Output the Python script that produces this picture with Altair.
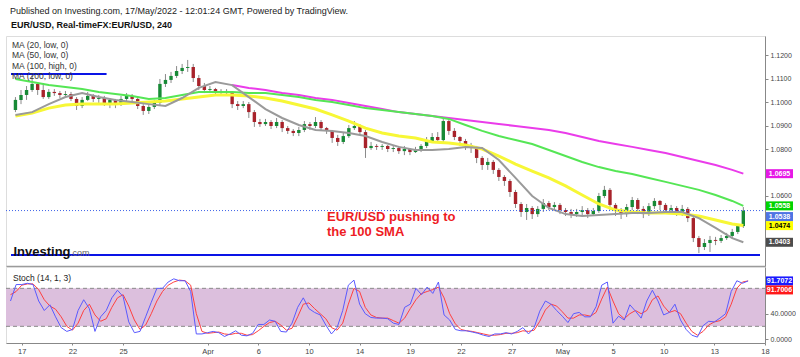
import json
import altair as alt
import pandas as pd

FONT = "Liberation Sans"

TITLE = "Published on Investing.com, 17/May/2022 - 12:01:24 GMT, Powered by TradingView."
SUBTITLE = "EUR/USD, Real-timeFX:EUR/USD, 240"
MA_LEGEND = ["MA (20, low, 0)", "MA (50, low, 0)", "MA (100, high, 0)", "MA (200, low, 0)"]
STOCH_LABEL = "Stoch (14, 1, 3)"
ANNOTATION = ["EUR/USD pushing to", "the 100 SMA"]
WATERMARK = "Investing"
WATERMARK_SUFFIX = ".com"

# 8-hour candles, bar index 0..131
OPEN = [1.0966,1.1009,1.1030,1.1051,1.1077,1.1051,1.1021,1.1043,1.1038,1.1030,
        1.1034,1.1013,1.0983,1.1009,1.1026,1.1013,1.1017,1.0996,1.1009,1.0991,
        1.1013,1.1026,1.1013,1.0983,1.0962,1.0979,1.0996,1.1077,1.1094,1.1111,
        1.1132,1.1145,1.1149,1.1102,1.1068,1.1051,1.1055,1.1043,1.1047,1.1038,
        1.0991,1.0983,1.0991,1.0957,1.0915,1.0906,1.0915,1.0898,1.0915,1.0889,
        1.0877,1.0868,1.0881,1.0906,1.0898,1.0915,1.0889,1.0877,1.0847,1.0830,
        1.0855,1.0889,1.0898,1.0872,1.0804,1.0813,1.0809,1.0813,1.0800,1.0804,
        1.0791,1.0800,1.0787,1.0796,1.0813,1.0834,1.0851,1.0838,1.0919,1.0877,
        1.0851,1.0834,1.0817,1.0804,1.0762,1.0732,1.0745,1.0711,1.0681,1.0664,
        1.0617,1.0566,1.0532,1.0549,1.0523,1.0545,1.0570,1.0553,1.0562,1.0540,
        1.0532,1.0523,1.0532,1.0540,1.0523,1.0536,1.0600,1.0626,1.0562,1.0536,
        1.0523,1.0553,1.0583,1.0545,1.0523,1.0557,1.0579,1.0562,1.0540,1.0549,
        1.0528,1.0545,1.0506,1.0421,1.0383,1.0400,1.0413,1.0409,1.0421,1.0430,1.0447,1.0472]
HIGH = [1.1021,1.1051,1.1068,1.1123,1.1085,1.1081,1.1055,1.1055,1.1047,1.1047,
        1.1043,1.1021,1.1021,1.1043,1.1034,1.1030,1.1026,1.1017,1.1013,1.1026,
        1.1038,1.1034,1.1017,1.0991,1.0991,1.1009,1.1098,1.1119,1.1128,1.1153,
        1.1162,1.1179,1.1162,1.1115,1.1081,1.1068,1.1060,1.1055,1.1055,1.1043,
        1.1004,1.1004,1.1000,1.0966,1.0928,1.0928,1.0923,1.0932,1.0923,1.0898,
        1.0885,1.0894,1.0919,1.0915,1.0936,1.0923,1.0894,1.0881,1.0860,1.0868,
        1.0902,1.0919,1.0906,1.0881,1.0830,1.0821,1.0821,1.0817,1.0817,1.0813,
        1.0813,1.0804,1.0809,1.0821,1.0851,1.0868,1.0872,1.0936,1.0928,1.0889,
        1.0855,1.0843,1.0826,1.0813,1.0770,1.0762,1.0753,1.0719,1.0689,1.0672,
        1.0626,1.0574,1.0566,1.0557,1.0557,1.0587,1.0579,1.0574,1.0570,1.0549,
        1.0545,1.0545,1.0557,1.0549,1.0549,1.0613,1.0643,1.0634,1.0570,1.0549,
        1.0566,1.0596,1.0591,1.0557,1.0570,1.0591,1.0583,1.0570,1.0562,1.0557,
        1.0562,1.0553,1.0515,1.0430,1.0417,1.0430,1.0426,1.0434,1.0443,1.0460,1.0481,1.0553]
LOW = [1.0957,1.0991,1.1009,1.1043,1.1030,1.1013,1.1013,1.1026,1.1017,1.1017,
       1.1004,1.0966,1.0974,1.1004,1.1000,1.0996,1.0983,1.0974,1.0974,1.0983,
       1.1004,1.1000,1.0970,1.0945,1.0949,1.0970,1.0983,1.1064,1.1081,1.1102,
       1.1119,1.1128,1.1085,1.1051,1.1038,1.1038,1.1030,1.1034,1.1026,1.0974,
       1.0966,1.0974,1.0932,1.0894,1.0894,1.0898,1.0885,1.0889,1.0872,1.0864,
       1.0855,1.0855,1.0872,1.0881,1.0889,1.0877,1.0864,1.0826,1.0813,1.0821,
       1.0847,1.0881,1.0860,1.0762,1.0796,1.0796,1.0796,1.0787,1.0787,1.0779,
       1.0774,1.0774,1.0783,1.0787,1.0804,1.0826,1.0826,1.0830,1.0860,1.0838,
       1.0813,1.0796,1.0783,1.0740,1.0711,1.0711,1.0694,1.0664,1.0643,1.0596,
       1.0549,1.0511,1.0498,1.0502,1.0511,1.0532,1.0540,1.0540,1.0523,1.0515,
       1.0506,1.0511,1.0515,1.0506,1.0515,1.0528,1.0591,1.0540,1.0515,1.0502,
       1.0511,1.0540,1.0523,1.0506,1.0515,1.0545,1.0540,1.0528,1.0528,1.0515,
       1.0515,1.0489,1.0404,1.0357,1.0370,1.0362,1.0391,1.0400,1.0413,1.0421,1.0438,1.0464]
CLOSE = [1.1009,1.1030,1.1051,1.1077,1.1051,1.1021,1.1043,1.1038,1.1030,1.1034,
         1.1013,1.0983,1.1009,1.1026,1.1013,1.1017,1.0996,1.1009,1.0991,1.1013,
         1.1026,1.1013,1.0983,1.0962,1.0979,1.0996,1.1077,1.1094,1.1111,1.1132,
         1.1145,1.1149,1.1102,1.1068,1.1051,1.1055,1.1043,1.1047,1.1038,1.0991,
         1.0983,1.0991,1.0957,1.0915,1.0906,1.0915,1.0898,1.0915,1.0889,1.0877,
         1.0868,1.0881,1.0906,1.0898,1.0915,1.0889,1.0877,1.0847,1.0830,1.0855,
         1.0889,1.0898,1.0872,1.0804,1.0813,1.0809,1.0813,1.0800,1.0804,1.0791,
         1.0800,1.0787,1.0796,1.0813,1.0834,1.0851,1.0838,1.0919,1.0877,1.0851,
         1.0834,1.0817,1.0804,1.0762,1.0732,1.0745,1.0711,1.0681,1.0664,1.0617,
         1.0566,1.0532,1.0549,1.0523,1.0545,1.0570,1.0553,1.0562,1.0540,1.0532,
         1.0523,1.0532,1.0540,1.0523,1.0536,1.0600,1.0626,1.0562,1.0536,1.0523,
         1.0553,1.0583,1.0545,1.0523,1.0557,1.0579,1.0562,1.0540,1.0549,1.0528,
         1.0545,1.0506,1.0421,1.0383,1.0400,1.0413,1.0409,1.0421,1.0430,1.0447,1.0472,1.0538]

# moving averages read every 3 bars (once a day) plus the last bar
MA_BARS = list(range(0, 130, 3)) + [131]
MA20 = [1.0945,1.0957,1.0991,1.1021,1.1038,1.1021,1.1009,1.1000,1.0991,1.0983,
        1.1017,1.1060,1.1085,1.1072,1.1021,1.0970,1.0932,1.0902,1.0881,1.0877,
        1.0868,1.0855,1.0830,1.0809,1.0796,1.0796,1.0800,1.0809,1.0804,1.0753,
        1.0677,1.0600,1.0549,1.0523,1.0515,1.0519,1.0523,1.0528,1.0528,1.0532,
        1.0532,1.0506,1.0464,1.0421,1.0403]
MA50 = [1.0940,1.0953,1.0974,1.0987,1.0991,1.0991,1.0991,1.0996,1.1000,1.1004,
        1.1013,1.1021,1.1030,1.1030,1.1026,1.1017,1.1004,1.0987,1.0970,1.0945,
        1.0919,1.0889,1.0868,1.0855,1.0847,1.0830,1.0826,1.0817,1.0800,1.0770,
        1.0736,1.0706,1.0677,1.0643,1.0604,1.0566,1.0540,1.0532,1.0528,1.0528,
        1.0523,1.0515,1.0498,1.0481,1.0474]
MA100 = [1.1098,1.1085,1.1072,1.1064,1.1055,1.1043,1.1034,1.1026,1.1013,1.1017,
         1.1030,1.1043,1.1043,1.1043,1.1038,1.1038,1.1030,1.1021,1.1009,1.1000,
         1.0987,1.0974,1.0966,1.0957,1.0949,1.0940,1.0928,1.0902,1.0877,1.0855,
         1.0838,1.0821,1.0796,1.0770,1.0745,1.0723,1.0706,1.0694,1.0677,1.0660,
         1.0643,1.0626,1.0604,1.0579,1.0558]
MA200 = [None]*13 + [1.1072,1.1060,1.1051,1.1038,1.1030,1.1017,1.1009,
         1.0996,1.0983,1.0970,1.0957,1.0949,1.0940,1.0932,1.0923,1.0915,1.0906,
         1.0898,1.0889,1.0881,1.0868,1.0851,1.0834,1.0821,1.0809,1.0796,1.0783,
         1.0766,1.0749,1.0732,1.0711,1.0695]

STOCH_K = [60,86,86,88,86,60,45,54,35,18,
           12,15,45,62,48,12,35,45,65,77,
           67,27,10,12,35,58,80,80,90,95,
           92,92,75,8,8,10,12,10,4,8,
           13,6,5,9,23,23,30,28,12,11,
           25,50,65,48,42,38,22,8,18,45,
           85,93,55,40,34,33,33,32,25,23,
           50,55,80,70,82,72,90,38,30,15,
           13,13,11,9,6,4,8,8,10,8,
           12,18,8,18,44,60,55,45,36,26,
           40,42,35,35,51,85,90,25,36,30,
           54,44,33,60,77,60,38,42,55,30,
           15,6,3,21,28,27,33,40,75,92,88,91.7072]
STOCH_D = [70,75,85,87,87,78,62,52,47,35,
           20,14,25,45,55,38,28,32,50,65,
           70,52,30,15,22,40,60,75,85,90,
           93,92,85,40,12,9,10,11,8,7,
           9,9,6,7,13,20,26,28,22,14,
           17,35,55,57,48,40,32,18,14,25,
           55,80,75,50,38,34,33,33,29,25,
           33,48,62,72,75,78,82,65,40,24,
           15,13,12,10,8,6,6,7,9,9,
           10,13,12,14,28,46,55,52,43,33,
           33,38,38,36,42,63,82,60,40,32,
           40,45,40,45,62,68,52,42,45,40,
           25,12,6,12,22,27,29,35,55,80,90,91.7006]
STOCH_BAND = [20, 80]
STOCH_TICKS = [0, 40]

DAY_BARS = [2, 11, 20, 35, 44, 53, 62, 71, 80, 89, 98, 107, 116, 125, 134]
DAY_LABELS = ["17", "22", "25", "Apr", "6", "10", "14", "19", "22", "27", "May", "5", "10", "13", "18"]
# price labels that are not hidden behind the value boxes
PRICE_TICKS = [1.06, 1.08, 1.09, 1.10, 1.11, 1.12]

LEVEL_PRICE = [1.1119, 1.0349]
LEVEL_START = [-0.8, -0.8]
LEVEL_END = [16.4, 134]

LAST_PRICE = 1.0538
BOX_VALUES = [1.0695, 1.0558, 1.0474, 1.0403]
BOX_FILL = ["#e619e6", "#00d400", "#ffff00", "#4d4d4d"]
BOX_INK = ["#ffffff", "#ffffff", "#000000", "#ffffff"]

# ---------------- layout constants
W = 759
H_MAIN = 230
H_STOCH = 76
UP = "#178a36"
DOWN = "#a8232b"
BOX_SHAPE = "M-1,-0.3333L1,-0.3333L1,0.3333L-1,0.3333Z"

x_scale = alt.Scale(domain=[-0.8, 134], nice=False, zero=False)
price_scale = alt.Scale(domain=[1.03021, 1.12809], nice=False, zero=False)
stoch_scale = alt.Scale(domain=[-6.3, 113.7], nice=False, zero=False)

top_x_axis = alt.Axis(labels=False, ticks=False, grid=False, title=None,
                      domainColor="#9b9b9b", domainWidth=1.5)
price_axis = alt.Axis(orient="right", values=PRICE_TICKS, format=".4f", title=None, grid=False,
                      tickSize=3, tickColor="#888888", domainColor="#888888",
                      labelColor="#444444", labelFontSize=7, labelFont=FONT, labelPadding=2)

label_expr = f"{json.dumps(DAY_LABELS)}[indexof({json.dumps(DAY_BARS)}, datum.value)]"
stoch_x_axis = alt.Axis(values=DAY_BARS, labelExpr=label_expr, title=None, grid=False,
                        tickSize=2, tickColor="#888888", domainColor="#888888",
                        labelColor="#444444", labelFontSize=7.5, labelFont=FONT, labelPadding=2,
                        labelFlush=False, labelOverlap=False)
stoch_y_axis = alt.Axis(orient="right", values=STOCH_TICKS, format=".4f", title=None, grid=False,
                        tickSize=3, tickColor="#888888", domainColor="#888888",
                        labelColor="#444444", labelFontSize=7, labelFont=FONT, labelPadding=2)


def XT(field):
    return alt.X(field, scale=x_scale, axis=top_x_axis)


def YP(field):
    return alt.Y(field, scale=price_scale, axis=price_axis)


def XS(field):
    return alt.X(field, scale=x_scale, axis=stoch_x_axis)


def YS(field):
    return alt.Y(field, scale=stoch_scale, axis=stoch_y_axis)


candles = pd.DataFrame({"bar": list(range(len(CLOSE))), "open": OPEN, "high": HIGH,
                        "low": LOW, "close": CLOSE})
candles["dir"] = ["up" if c >= o else "down" for o, c in zip(OPEN, CLOSE)]

ma = pd.DataFrame({"bar": MA_BARS, "ma20": MA20, "ma50": MA50, "ma100": MA100, "ma200": MA200})
levels = pd.DataFrame({"price": LEVEL_PRICE, "start": LEVEL_START, "end": LEVEL_END})
boxes = pd.DataFrame({"value": BOX_VALUES, "fill": BOX_FILL, "ink": BOX_INK})
last = pd.DataFrame({"value": [LAST_PRICE], "fill": ["#4f74e3"], "ink": ["#ffffff"]})

wicks = alt.Chart(candles).mark_rule(color="#8a8a8a", strokeWidth=1).encode(
    x=XT("bar:Q"), y=YP("low:Q"), y2="high:Q")
bodies = alt.Chart(candles).mark_bar(size=3.4).encode(
    x=XT("bar:Q"), y=YP("open:Q"), y2="close:Q",
    color=alt.Color("dir:N", scale=alt.Scale(domain=["up", "down"], range=[UP, DOWN]), legend=None))

ma_base = alt.Chart(ma)
l200 = ma_base.mark_line(color="#ea3cea", strokeWidth=2).encode(x=XT("bar:Q"), y=YP("ma200:Q"))
l100 = ma_base.mark_line(color="#55e655", strokeWidth=2).encode(x=XT("bar:Q"), y=YP("ma100:Q"))
l50 = ma_base.mark_line(color="#f7f736", strokeWidth=3).encode(x=XT("bar:Q"), y=YP("ma50:Q"))
l20 = ma_base.mark_line(color="#9a9a9a", strokeWidth=2).encode(x=XT("bar:Q"), y=YP("ma20:Q"))

level_rules = alt.Chart(levels).mark_rule(color="#0a14e6", strokeWidth=2).encode(
    x=XT("start:Q"), x2="end:Q", y=YP("price:Q"))
last_line = alt.Chart(last).mark_rule(color="#3d63e8", strokeWidth=1, strokeDash=[1, 2]).encode(
    x=alt.value(0), x2=alt.value(W), y=YP("value:Q"))

box_marks = alt.Chart(boxes).mark_point(shape=BOX_SHAPE, size=729, filled=True, opacity=1,
                                        strokeWidth=0).encode(
    x=alt.value(W + 14.5), y=YP("value:Q"), color=alt.Color("fill:N", scale=None))
box_text = alt.Chart(boxes).mark_text(fontSize=7, fontWeight="bold", font=FONT, align="center",
                                      baseline="middle").encode(
    x=alt.value(W + 14.5), y=YP("value:Q"), text=alt.Text("value:Q", format=".4f"),
    color=alt.Color("ink:N", scale=None))
last_box = alt.Chart(last).mark_point(shape=BOX_SHAPE, size=729, filled=True, opacity=1,
                                      strokeWidth=0, yOffset=6).encode(
    x=alt.value(W + 14.5), y=YP("value:Q"), color=alt.Color("fill:N", scale=None))
last_text = alt.Chart(last).mark_text(fontSize=7, fontWeight="bold", font=FONT, align="center",
                                      baseline="middle", yOffset=6).encode(
    x=alt.value(W + 14.5), y=YP("value:Q"), text=alt.Text("value:Q", format=".4f"),
    color=alt.Color("ink:N", scale=None))

title_txt = alt.Chart(pd.DataFrame({"t": [TITLE]})).mark_text(
    font=FONT, fontSize=9, align="left", baseline="middle", color="#222222").encode(
    x=alt.value(4), y=alt.value(-25), text="t:N")
subtitle_txt = alt.Chart(pd.DataFrame({"t": [SUBTITLE]})).mark_text(
    font=FONT, fontSize=9, fontWeight="bold", align="left", baseline="middle", color="#111111").encode(
    x=alt.value(5), y=alt.value(-11), text="t:N")
legend_txt = alt.Chart(pd.DataFrame({"t": ["\n".join(MA_LEGEND)]})).mark_text(
    font=FONT, fontSize=8.5, align="left", baseline="top", color="#333333",
    lineBreak="\n", lineHeight=10.4).encode(
    x=alt.value(6), y=alt.value(5), text="t:N")
annot_txt = alt.Chart(pd.DataFrame({"t": ["\n".join(ANNOTATION)]})).mark_text(
    font=FONT, fontSize=13, fontWeight="bold", align="left", baseline="alphabetic", color="#ee1c24",
    lineBreak="\n", lineHeight=15).encode(
    x=alt.value(321), y=alt.value(185), text="t:N")
wm_txt = alt.Chart(pd.DataFrame({"t": [WATERMARK]})).mark_text(
    font=FONT, fontSize=13, fontWeight="bold", align="left", baseline="alphabetic",
    color="#111111").encode(
    x=alt.value(7.5), y=alt.value(220), text="t:N")
wm2_txt = alt.Chart(pd.DataFrame({"t": [WATERMARK_SUFFIX]})).mark_text(
    font=FONT, fontSize=9, align="left", baseline="alphabetic", color="#666666").encode(
    x=alt.value(64), y=alt.value(220), text="t:N")

top = alt.layer(
    wicks, bodies, l200, l100, l50, l20, level_rules, last_line,
    box_marks, box_text, last_box, last_text,
    title_txt, subtitle_txt, legend_txt, annot_txt, wm_txt, wm2_txt,
).properties(width=W, height=H_MAIN)

stoch = pd.DataFrame({"bar": list(range(len(STOCH_K))), "k": STOCH_K, "d": STOCH_D})
band = pd.DataFrame({"lo": [STOCH_BAND[0]], "hi": [STOCH_BAND[1]]})
band_lines = pd.DataFrame({"level": STOCH_BAND})
stoch_boxes = pd.DataFrame({"value": [STOCH_K[-1]], "fill": ["#1a1aff"], "ink": ["#ffffff"]})
stoch_boxes2 = pd.DataFrame({"value": [STOCH_D[-1]], "fill": ["#ff1a1a"], "ink": ["#ffffff"]})

band_rect = alt.Chart(band).mark_rect(color="#dcbfdd").encode(
    x=alt.value(0), x2=alt.value(W), y=YS("lo:Q"), y2="hi:Q")
band_rules = alt.Chart(band_lines).mark_rule(color="#8a8a8a", strokeDash=[4, 3], strokeWidth=1).encode(
    x=alt.value(0), x2=alt.value(W), y=YS("level:Q"))
d_line = alt.Chart(stoch).mark_line(color="#ff4040", strokeWidth=1).encode(x=XS("bar:Q"), y=YS("d:Q"))
k_line = alt.Chart(stoch).mark_line(color="#5a5aff", strokeWidth=1).encode(x=XS("bar:Q"), y=YS("k:Q"))
stoch_txt = alt.Chart(pd.DataFrame({"t": [STOCH_LABEL]})).mark_text(
    font=FONT, fontSize=8.5, align="left", baseline="middle", color="#222222").encode(
    x=alt.value(7), y=alt.value(11), text="t:N")
kb = alt.Chart(stoch_boxes).mark_point(shape=BOX_SHAPE, size=729, filled=True, opacity=1,
                                       strokeWidth=0).encode(
    x=alt.value(W + 14.5), y=YS("value:Q"), color=alt.Color("fill:N", scale=None))
kt = alt.Chart(stoch_boxes).mark_text(fontSize=7, fontWeight="bold", font=FONT, align="center",
                                      baseline="middle").encode(
    x=alt.value(W + 14.5), y=YS("value:Q"), text=alt.Text("value:Q", format=".4f"),
    color=alt.Color("ink:N", scale=None))
db = alt.Chart(stoch_boxes2).mark_point(shape=BOX_SHAPE, size=729, filled=True, opacity=1,
                                        strokeWidth=0, yOffset=9).encode(
    x=alt.value(W + 14.5), y=YS("value:Q"), color=alt.Color("fill:N", scale=None))
dt = alt.Chart(stoch_boxes2).mark_text(fontSize=7, fontWeight="bold", font=FONT, align="center",
                                       baseline="middle", yOffset=9).encode(
    x=alt.value(W + 14.5), y=YS("value:Q"), text=alt.Text("value:Q", format=".4f"),
    color=alt.Color("ink:N", scale=None))

bottom = alt.layer(band_rect, band_rules, d_line, k_line, stoch_txt, kb, kt, db, dt).properties(
    width=W, height=H_STOCH)

chart = alt.vconcat(top, bottom, spacing=-2).properties(
    padding={"left": 5, "top": 6, "right": 0, "bottom": 0}, background="white"
).configure_view(stroke=None).configure(font=FONT)

chart.save("out.html", embed_options={"renderer": "svg", "actions": False})
